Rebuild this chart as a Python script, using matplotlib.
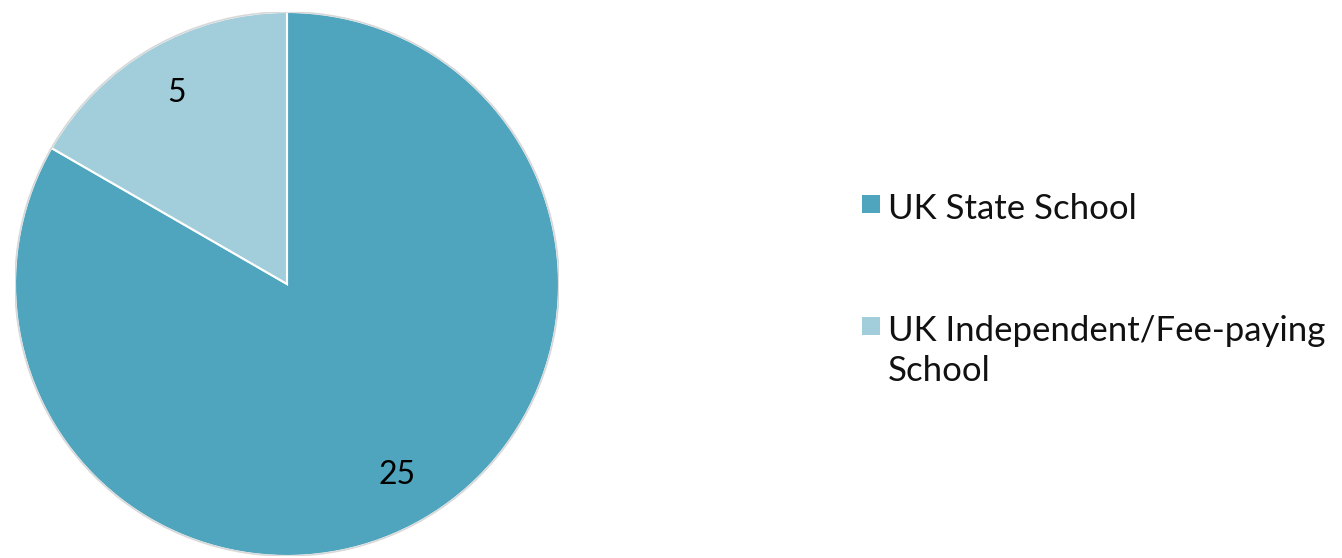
import matplotlib.pyplot as plt
from matplotlib.patches import Rectangle

labels = ["UK State School", "UK Independent/Fee-paying\nSchool"]
values = [25, 5]
colors = ["#4fa5be", "#a2cedc"]

plt.rcParams["font.family"] = ["Lato", "DejaVu Sans"]

W, H = 1342, 558
fig = plt.figure(figsize=(W / 100, H / 100), dpi=100)
# pie centre ~ (287, 284) px, radius ~272 px
cx, cy, r = 287, 284, 272
ax = fig.add_axes([(cx - r) / W, (H - cy - r) / H, 2 * r / W, 2 * r / H])

wedges, texts = ax.pie(values, colors=colors, startangle=90, counterclock=False,
                       labels=[str(v) for v in values], labeldistance=0.81,
                       wedgeprops=dict(edgecolor="white", linewidth=1.5),
                       textprops=dict(fontsize=23, color="black"))
for t in texts:
    t.set_horizontalalignment("center")
    t.set_verticalalignment("center")

# thin grey rim like the original
ax.add_patch(plt.Circle((0, 0), 1.0, fill=False, edgecolor="#d8d8d8", linewidth=1.2))
ax.set_xlim(-1, 1)
ax.set_ylim(-1, 1)
ax.set_aspect("equal")
ax.axis("off")

# legend drawn by hand so the swatch sits beside the first line
sq = 18
for lab, col, top in zip(labels, colors, [195, 317]):
    fig.patches.append(Rectangle((862 / W, (H - top - sq) / H), sq / W, sq / H,
                                 transform=fig.transFigure, facecolor=col,
                                 edgecolor="none"))
    fig.text(888 / W, (H - top + 2) / H, lab, fontsize=25, va="top", ha="left",
             linespacing=1.3, color="#111111")

fig.savefig("out.png", dpi=100)
